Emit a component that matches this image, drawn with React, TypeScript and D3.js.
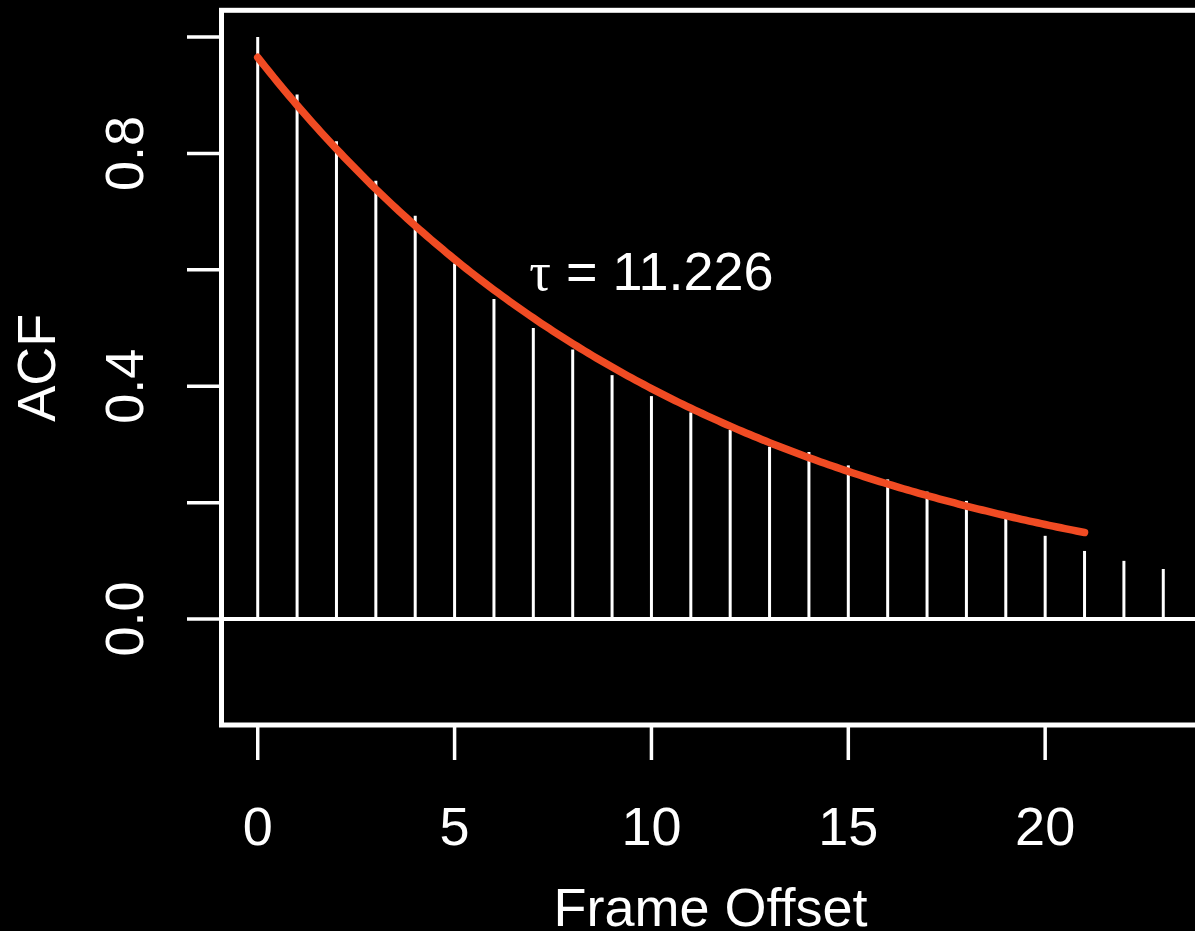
import React from "react";
import * as d3 from "d3";

// Autocorrelation of the frame series, one value per lag
const lags = [0, 1, 2, 3, 4, 5, 6, 7, 8, 9, 10, 11, 12, 13, 14, 15, 16, 17, 18, 19, 20, 21, 22, 23];
const acfValues = [
  1.0, 0.901, 0.821, 0.753, 0.693, 0.611, 0.55, 0.5, 0.463, 0.419, 0.383, 0.355,
  0.325, 0.296, 0.287, 0.264, 0.24, 0.219, 0.203, 0.172, 0.143, 0.117, 0.1, 0.086,
];

// Exponential decay fit: A * exp(-lag / tau), drawn over lags 0..21
const tau = 11.226;
const fitAmplitude = 0.965;
const fitRange = [0, 21];

const xTickValues = [0, 5, 10, 15, 20];
const xTickLabels = ["0", "5", "10", "15", "20"];
const yTickValues = [0, 0.2, 0.4, 0.6, 0.8, 1.0];
const yTickLabels = ["0.0", "", "0.4", "", "0.8", ""];

const W = 1195;
const H = 931;
const FONT = "'Liberation Sans', Arial, Helvetica, sans-serif";
const FIT_COLOR = "#f04b23";

export default function App() {
  const plot = { left: 221.5, right: 1199.5, top: 10.3, bottom: 725 };
  const x = d3.scaleLinear().domain([-0.92, 23.92]).range([plot.left, plot.right]);
  const y = d3.scaleLinear().domain([-0.1365 - 0.0455, 1.0003 + 0.0455]).range([plot.bottom, plot.top]);

  const fitPoints = d3.range(fitRange[0], fitRange[1] + 0.0001, 0.1).map((l) => [l, fitAmplitude * Math.exp(-l / tau)] as [number, number]);
  const fitPath = d3
    .line<[number, number]>()
    .x((d) => x(d[0]))
    .y((d) => y(d[1]))(fitPoints) as string;

  const fontSize = 54;

  return (
    <svg
      width={W}
      height={H}
      viewBox={`0 0 ${W} ${H}`}
      style={{ position: "absolute", left: 0, top: 0, display: "block" }}
    >
      <rect x={0} y={0} width={W} height={H} fill="#000" />

      {/* zero reference line */}
      <line x1={plot.left} x2={W} y1={y(0)} y2={y(0)} stroke="#fff" strokeWidth={4} />

      {/* ACF spikes */}
      {lags.map((l, i) => (
        <line
          key={`bar-${l}`}
          x1={x(l)}
          x2={x(l)}
          y1={y(0)}
          y2={y(acfValues[i])}
          stroke="#fff"
          strokeWidth={3}
        />
      ))}

      {/* fitted exponential */}
      <path d={fitPath} fill="none" stroke={FIT_COLOR} strokeWidth={7.5} strokeLinecap="round" strokeLinejoin="round" />

      {/* plot frame */}
      <rect
        x={plot.left}
        y={plot.top}
        width={plot.right - plot.left}
        height={plot.bottom - plot.top}
        fill="none"
        stroke="#fff"
        strokeWidth={5}
      />

      {/* y axis */}
      {yTickValues.map((v, i) => (
        <g key={`yt-${v}`}>
          <line x1={187} x2={plot.left} y1={y(v)} y2={y(v)} stroke="#fff" strokeWidth={3.5} />
          {yTickLabels[i] && (
            <text
              transform={`translate(143,${y(v)}) rotate(-90)`}
              textAnchor="middle"
              fill="#fff"
              fontFamily={FONT}
              fontSize={fontSize}
            >
              {yTickLabels[i]}
            </text>
          )}
        </g>
      ))}

      {/* x axis */}
      {xTickValues.map((v, i) => (
        <g key={`xt-${v}`}>
          <line x1={x(v)} x2={x(v)} y1={plot.bottom} y2={760} stroke="#fff" strokeWidth={3.5} />
          <text x={x(v)} y={845} textAnchor="middle" fill="#fff" fontFamily={FONT} fontSize={fontSize}>
            {xTickLabels[i]}
          </text>
        </g>
      ))}

      {/* axis titles */}
      <text
        x={(plot.left + plot.right) / 2}
        y={926}
        textAnchor="middle"
        fill="#fff"
        fontFamily={FONT}
        fontSize={fontSize}
      >
        Frame Offset
      </text>
      <text
        transform={`translate(55,${(plot.top + plot.bottom) / 2}) rotate(-90)`}
        textAnchor="middle"
        fill="#fff"
        fontFamily={FONT}
        fontSize={fontSize}
      >
        ACF
      </text>

      {/* decay constant annotation */}
      <text x={x(10)} y={y(0.6) + 20} textAnchor="middle" fill="#fff" fontFamily={FONT} fontSize={fontSize}>
        <tspan fontFamily="'Liberation Serif', 'DejaVu Serif', serif">τ</tspan>
        <tspan> = {tau.toFixed(3)}</tspan>
      </text>
    </svg>
  );
}
